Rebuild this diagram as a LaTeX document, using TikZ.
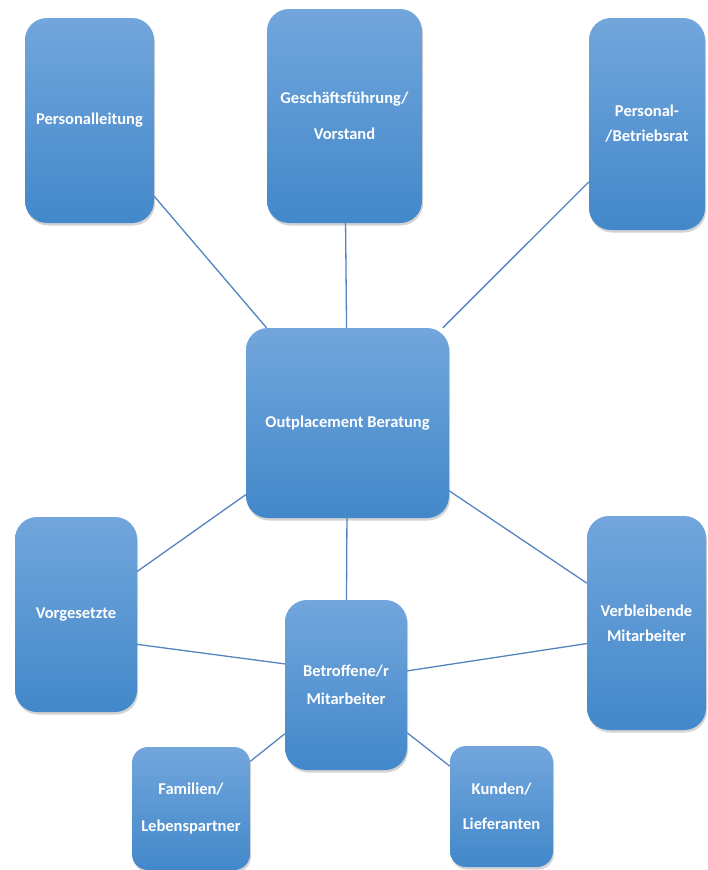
\documentclass[tikz,border=0pt]{standalone}
\usepackage{fontspec}
\setmainfont{Carlito}
\usepackage{xcolor}
\usepackage{tikz}
\usetikzlibrary{shadows}

\definecolor{boxtop}{RGB}{114,166,220}
\definecolor{boxbot}{RGB}{66,136,202}
\definecolor{linkblue}{RGB}{84,132,192}

\begin{document}
\begin{tikzpicture}[x=1pt, y=1pt,
      party/.style={rectangle, rounded corners=22pt, top color=boxtop, bottom color=boxbot,
        draw=none, text=white, align=center, inner sep=2pt,
        font=\fontsize{16.5}{20}\selectfont\bfseries,
        drop shadow={shadow xshift=1pt, shadow yshift=-2.5pt, opacity=0.35}},
      small/.style={party, rounded corners=16pt},
      link/.style={draw=linkblue, line width=1.3pt}
    ]
      \useasboundingbox (0,0) rectangle (707,-870);
      \node[party, minimum width=129, minimum height=205] (pers) at (89.5,-120.5) {Personalleitung};
      \node[party, minimum width=155, minimum height=214] (gf) at (344.5,-116) {Geschäftsführung/\\[16pt]Vorstand};
      \node[party, minimum width=116, minimum height=212] (rat) at (647,-124) {Personal-\\[5pt]/Betriebsrat};
      \node[party, minimum width=203, minimum height=190] (out) at (347.5,-423) {Outplacement Beratung};
      \node[party, minimum width=122, minimum height=195] (vorg) at (76,-614.5) {Vorgesetzte};
      \node[party, minimum width=119, minimum height=214] (verb) at (646.5,-623) {Verbleibende\\[5pt]Mitarbeiter};
      \node[party, minimum width=122, minimum height=170] (betr) at (346,-685) {Betroffene/r\\[8pt]Mitarbeiter};
      \node[small, minimum width=118, minimum height=123] (fam) at (191,-808.5) {Familien/\\[17pt]Lebenspartner};
      \node[small, minimum width=103, minimum height=121] (kund) at (501.5,-806.5) {Kunden/\\[15pt]Lieferanten};
      \draw[link] (pers) -- (out);
      \draw[link] (gf) -- (out);
      \draw[link] (rat) -- (out);
      \draw[link] (out) -- (vorg);
      \draw[link] (out) -- (verb);
      \draw[link] (out) -- (betr);
      \draw[link] (vorg.-26) -- (betr.161);
      \draw[link] (betr.13) -- (verb.199);
      \draw[link] (betr) -- (fam);
      \draw[link] (betr) -- (kund);
    \end{tikzpicture}
\end{document}
